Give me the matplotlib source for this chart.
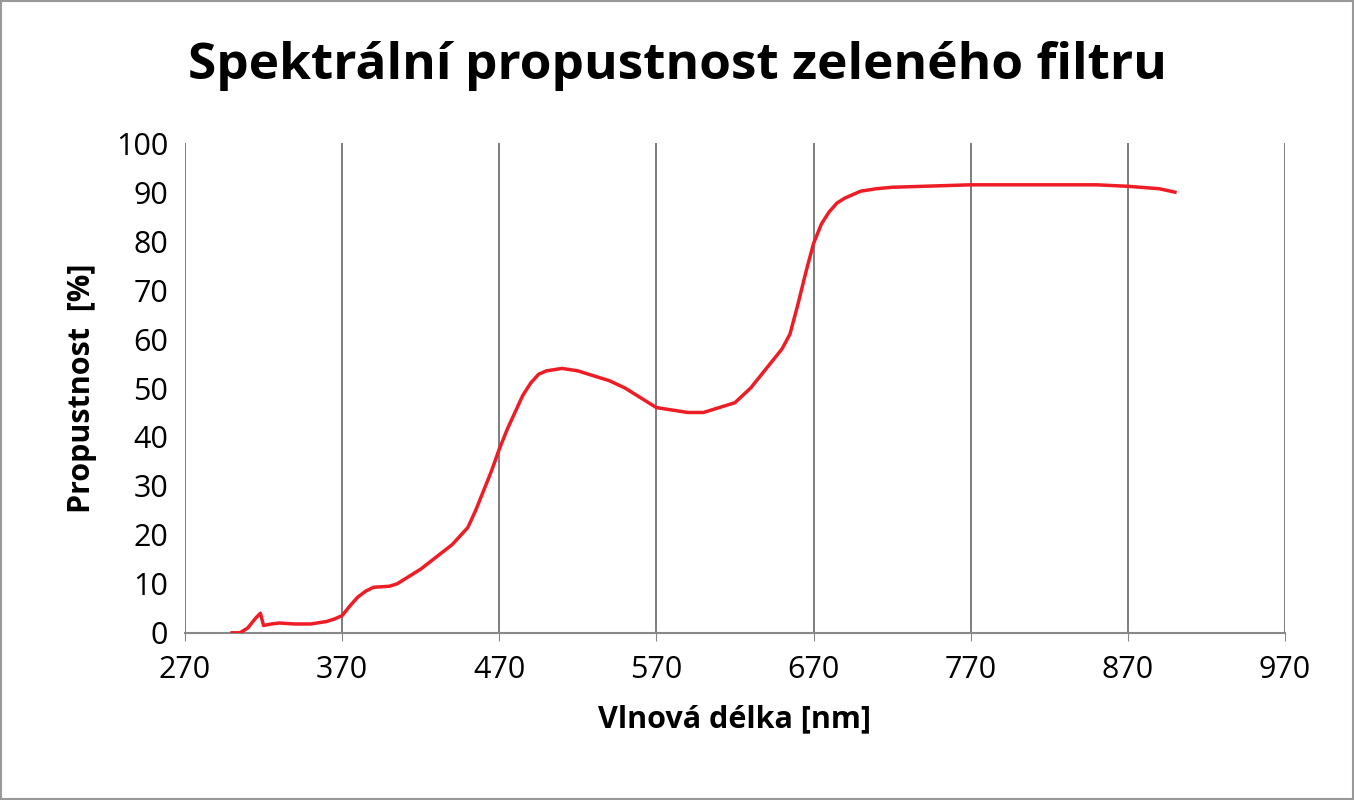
import matplotlib.pyplot as plt
from matplotlib.patches import Rectangle

wavelength = [300, 305, 310, 315, 318, 320, 325, 330, 340, 350, 360, 365, 370, 375, 380, 385, 390, 400,
              405, 410, 420, 430, 440, 450, 455, 460, 465, 470, 475, 480, 485, 490, 495, 500, 510, 520,
              530, 540, 550, 560, 570, 580, 590, 600, 610, 620, 625, 630, 640, 650, 655, 660, 665, 670,
              675, 680, 685, 690, 700, 710, 720, 750, 770, 800, 850, 870, 890, 900]
transmission = [0, 0, 1, 3, 4, 1.5, 1.8, 2, 1.8, 1.8, 2.3, 2.8, 3.5, 5.5, 7.3, 8.5, 9.3, 9.5,
                10, 11, 13, 15.5, 18, 21.5, 25, 29, 33, 37.5, 41.5, 45, 48.5, 51, 52.8, 53.5, 54, 53.5,
                52.5, 51.5, 50, 48, 46, 45.5, 45, 45, 46, 47, 48.5, 50, 54, 58, 61, 67, 73.5, 79.5,
                83.5, 86, 87.8, 88.8, 90.2, 90.7, 91, 91.3, 91.5, 91.5, 91.5, 91.2, 90.7, 90]
xticks = list(range(270, 971, 100))
yticks = list(range(0, 101, 10))

plt.rcParams['font.family'] = ['Open Sans', 'DejaVu Sans']

fig = plt.figure(figsize=(13.54, 8), dpi=100)
fig.patches.append(Rectangle((0.001, 0.001), 0.998, 0.998, transform=fig.transFigure,
                             fill=False, edgecolor='#999999', linewidth=1.5))
ax = fig.add_axes([0.1366, 0.209, 0.8124, 0.612])

ax.plot(wavelength, transmission, color='#ee1c25', linewidth=2.5, zorder=5)

ax.set_xlim(270, 970)
ax.set_ylim(0, 100)
ax.set_xticks(xticks)
ax.set_yticks(yticks)
ax.tick_params(labelsize=22, length=6, color='#888888')
ax.tick_params(axis='y', length=0, pad=12)
ax.tick_params(axis='x', pad=10)
ax.grid(axis='x', color='#666666', linewidth=1.2)
for s in ['top', 'right', 'left']:
    ax.spines[s].set_visible(False)
ax.spines['bottom'].set_color('#888888')
ax.spines['bottom'].set_linewidth(1.5)

ax.set_xlabel('Vlnová délka [nm]', fontsize=22, fontweight='bold', labelpad=14)
ax.set_ylabel('Propustnost  [%]', fontsize=22, fontweight='bold', labelpad=14)
fig.text(0.5, 0.918, 'Spektrální propustnost zeleného filtru', ha='center', va='center',
         fontsize=37, fontweight='bold')

fig.savefig('out.png', dpi=100)
